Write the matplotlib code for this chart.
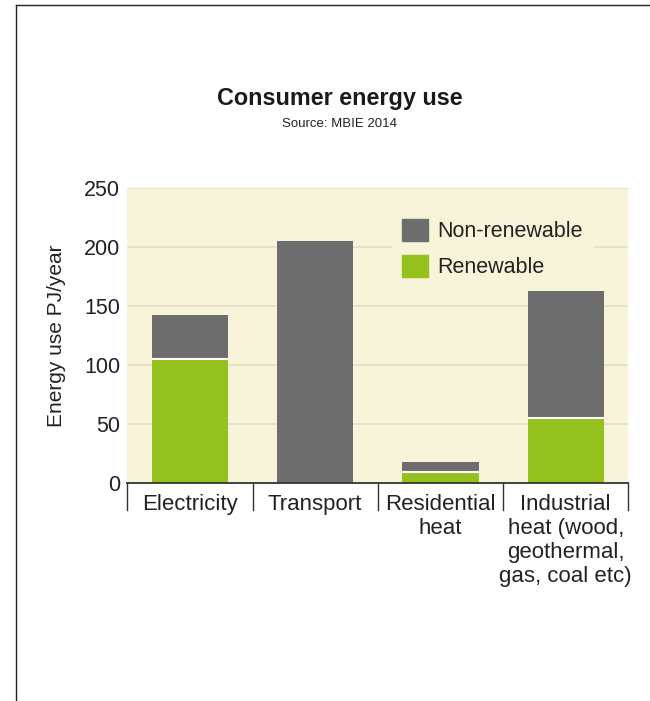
import matplotlib
matplotlib.use("Agg")
import matplotlib.pyplot as plt
from matplotlib.lines import Line2D
from matplotlib.patches import Patch

plt.rcParams['font.family'] = ['Liberation Sans', 'DejaVu Sans']

categories = ["Electricity", "Transport", "Residential\nheat",
              "Industrial\nheat (wood,\ngeothermal,\ngas, coal etc)"]
renewable = [105, 0, 9, 55]
non_renewable = [37, 205, 9, 108]
yticks = [0, 50, 100, 150, 200, 250]

GREY = "#6d6d6d"
GREEN = "#95c11f"
BG = "#f8f4da"
TXT = "#222222"

W, H = 650, 701
fig = plt.figure(figsize=(W / 100, H / 100), dpi=100)
ax = fig.add_axes([127.3 / W, 1 - 482.7 / H, (628.3 - 127.3) / W, (482.7 - 188.3) / H])
ax.set_facecolor(BG)

x = list(range(len(categories)))
bw = 0.608
ax.bar(x, renewable, width=bw, color=GREEN, linewidth=0, zorder=3)
ax.bar(x, non_renewable, width=bw, bottom=renewable, color=GREY, linewidth=0, zorder=3)
for i in x:
    if renewable[i] > 0 and non_renewable[i] > 0:
        ax.hlines(renewable[i], i - bw / 2, i + bw / 2, color="white",
                  linewidth=1.5, zorder=4)

ax.set_xlim(-0.5, len(categories) - 0.5)
ax.set_ylim(0, 250)
ax.set_yticks(yticks)
ax.set_yticklabels([str(v) for v in yticks], fontsize=15.5, color=TXT)
ax.tick_params(axis='y', length=0, pad=5)
ax.set_xticks([])
for v in yticks[1:]:
    ax.axhline(v, color="#e2dfcb", linewidth=1.3, zorder=1)

for s in ["top", "right", "left"]:
    ax.spines[s].set_visible(False)
ax.spines["bottom"].set_color("#333333")
ax.spines["bottom"].set_linewidth(1.3)
ax.spines["bottom"].set_zorder(5)

# category separators and labels below axis
for i in range(len(categories) + 1):
    ax.plot([i - 0.5, i - 0.5], [0, -23.5], color="#333333", linewidth=1.0,
            clip_on=False, zorder=5)
for i, c in enumerate(categories):
    ax.text(i, -9.5, c, ha="center", va="top", fontsize=16, color=TXT,
            linespacing=1.2)

ax.set_ylabel("Energy use PJ/year", fontsize=15, color=TXT)
ax.yaxis.set_label_coords((66 - 127.3) / 501, 0.5)

leg = ax.legend(handles=[Patch(color=GREY, label="Non-renewable"),
                         Patch(color=GREEN, label="Renewable")],
                loc="upper left", bbox_to_anchor=((392 - 127.3) / 501, (482.7 - 209) / 294.4),
                fontsize=15.5, frameon=True, facecolor=BG, edgecolor=BG, framealpha=1,
                handlelength=1.21, handleheight=1.21, handletextpad=0.42,
                labelspacing=0.6, borderpad=0.45, borderaxespad=0)
leg.set_zorder(5)
for t in leg.get_texts():
    t.set_color(TXT)

fig.text(340 / W, 1 - 98 / H, "Consumer energy use", ha="center", va="center",
         fontsize=16.8, fontweight="bold", color="#1a1a1a")
fig.text(340 / W, 1 - 124 / H, "Source: MBIE 2014", ha="center", va="center",
         fontsize=9.5, color=TXT)

# outer frame lines
fig.add_artist(Line2D([16 / W, 16 / W], [0, 1 - 5 / H], color="#222222", linewidth=1.0))
fig.add_artist(Line2D([16 / W, 1], [1 - 5 / H, 1 - 5 / H], color="#222222", linewidth=1.0))

fig.savefig("out.png", dpi=100, facecolor="white")
